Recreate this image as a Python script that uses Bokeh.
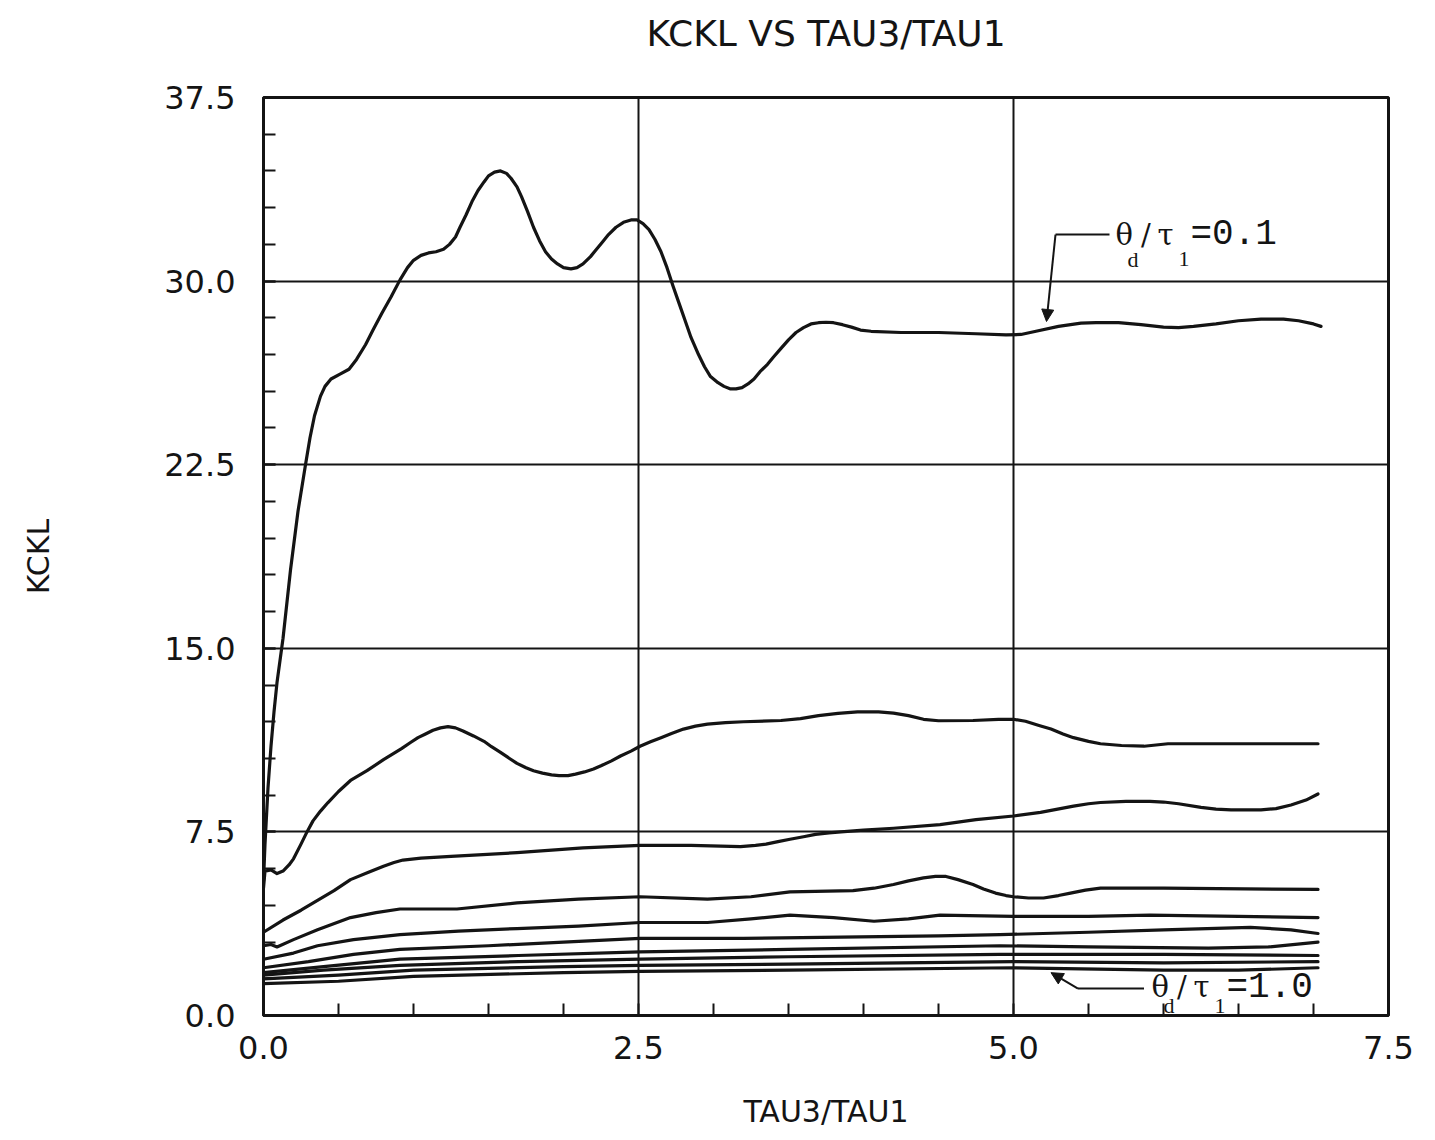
from bokeh.plotting import figure
from bokeh.models import (FixedTicker, NumeralTickFormatter, Arrow, NormalHead, ColumnDataSource,
                          LinearAxis)
from bokeh.core.properties import value
from bokeh.embed import file_html
from bokeh.resources import INLINE

# KCKL against TAU3/TAU1 for theta_d/tau_1 = 0.1 ... 1.0
x_01 = [0.0, 0.01, 0.03, 0.05, 0.07, 0.09, 0.13, 0.18, 0.23, 0.28, 0.31, 0.34, 0.38, 0.41, 0.45,
        0.51, 0.57, 0.62, 0.68, 0.73, 0.79, 0.85, 0.91, 0.96, 1.0, 1.05, 1.1, 1.15, 1.2, 1.24,
        1.28, 1.31, 1.35, 1.39, 1.43, 1.47, 1.5, 1.54, 1.58, 1.62, 1.65, 1.69, 1.72, 1.76, 1.8,
        1.84, 1.88, 1.92, 1.96, 2.0, 2.05, 2.09, 2.13, 2.18, 2.22, 2.26, 2.3, 2.35, 2.4, 2.45,
        2.49, 2.53, 2.57, 2.61, 2.65, 2.69, 2.73, 2.77, 2.81, 2.85, 2.9, 2.94, 2.98, 3.03, 3.07,
        3.11, 3.15, 3.19, 3.23, 3.27, 3.31, 3.36, 3.4, 3.45, 3.5, 3.55, 3.6, 3.65, 3.7, 3.75,
        3.8, 3.86, 3.92, 3.98, 4.05, 4.25, 4.5, 4.75, 4.95, 5.05, 5.15, 5.3, 5.45, 5.55, 5.7,
        5.85, 6.0, 6.1, 6.2, 6.35, 6.5, 6.65, 6.8, 6.9, 7.0, 7.05]
k_01 = [5.5, 7.0, 9.3, 11.0, 12.4, 13.6, 15.4, 18.2, 20.6, 22.5, 23.6, 24.5, 25.3, 25.7, 26.0,
        26.2, 26.4, 26.8, 27.4, 28.0, 28.7, 29.35, 30.05, 30.55, 30.85, 31.05, 31.15, 31.2, 31.3, 31.5,
        31.8, 32.2, 32.7, 33.25, 33.7, 34.05, 34.3, 34.45, 34.5, 34.4, 34.2, 33.85, 33.45, 32.85, 32.2,
        31.65, 31.2, 30.9, 30.7, 30.55, 30.5, 30.55, 30.7, 31.0, 31.3, 31.6, 31.9, 32.2, 32.4, 32.5,
        32.5, 32.35, 32.1, 31.7, 31.2, 30.55, 29.8, 29.1, 28.4, 27.7, 27.0, 26.5, 26.1, 25.85, 25.7,
        25.6, 25.6, 25.65, 25.8, 26.0, 26.3, 26.6, 26.9, 27.25, 27.6, 27.9, 28.1, 28.25, 28.3, 28.32,
        28.3, 28.22, 28.12, 28.0, 27.95, 27.9, 27.9, 27.85, 27.8, 27.82, 27.95, 28.15, 28.28, 28.3, 28.3,
        28.22, 28.12, 28.1, 28.15, 28.25, 28.38, 28.45, 28.45, 28.38, 28.25, 28.15]

x_02 = [0.0, 0.01, 0.05, 0.09, 0.13, 0.17, 0.2, 0.25, 0.29, 0.33, 0.38, 0.43, 0.5, 0.58, 0.69,
        0.8, 0.92, 0.98, 1.03, 1.08, 1.13, 1.18, 1.23, 1.28, 1.33, 1.4, 1.47, 1.52, 1.58, 1.64,
        1.69, 1.75, 1.8, 1.86, 1.92, 1.97, 2.03, 2.08, 2.14, 2.2, 2.25, 2.32, 2.38, 2.45, 2.51,
        2.58, 2.65, 2.72, 2.8, 2.88, 2.96, 3.08, 3.2, 3.45, 3.58, 3.7, 3.83, 3.96, 4.1, 4.2,
        4.3, 4.4, 4.5, 4.73, 4.9, 5.0, 5.08, 5.17, 5.25, 5.33, 5.4, 5.5, 5.58, 5.72, 5.87,
        5.95, 6.03, 6.5, 7.03]
k_02 = [5.2, 5.9, 5.95, 5.8, 5.9, 6.15, 6.4, 7.0, 7.5, 7.95, 8.35, 8.7, 9.15, 9.6, 10.0,
        10.45, 10.9, 11.15, 11.35, 11.5, 11.65, 11.75, 11.8, 11.75, 11.62, 11.42, 11.2, 10.98, 10.75, 10.5,
        10.3, 10.12, 10.0, 9.9, 9.83, 9.8, 9.8, 9.86, 9.95, 10.07, 10.2, 10.4, 10.6, 10.8, 11.0,
        11.18, 11.35, 11.52, 11.7, 11.82, 11.9, 11.96, 12.0, 12.05, 12.13, 12.25, 12.34, 12.4, 12.4, 12.35,
        12.25, 12.1, 12.04, 12.05, 12.1, 12.1, 12.02, 11.85, 11.7, 11.5, 11.35, 11.2, 11.1, 11.03, 11.0,
        11.05, 11.1, 11.1, 11.1]

x_03 = [0.0, 0.13, 0.25, 0.36, 0.47, 0.58, 0.7, 0.8, 0.87, 0.93, 1.05, 1.25, 1.69, 2.13, 2.51,
        2.85, 3.18, 3.28, 3.35, 3.43, 3.51, 3.6, 3.68, 3.77, 3.85, 4.0, 4.2, 4.51, 4.75, 5.0,
        5.18, 5.4, 5.5, 5.58, 5.75, 5.91, 6.0, 6.1, 6.25, 6.35, 6.45, 6.65, 6.75, 6.85, 6.95,
        7.03]
k_03 = [3.4, 3.9, 4.3, 4.7, 5.1, 5.55, 5.85, 6.1, 6.25, 6.35, 6.43, 6.5, 6.65, 6.85, 6.95,
        6.95, 6.9, 6.95, 7.0, 7.1, 7.2, 7.3, 7.4, 7.46, 7.5, 7.57, 7.65, 7.8, 8.0, 8.15,
        8.3, 8.55, 8.65, 8.7, 8.75, 8.75, 8.72, 8.65, 8.5, 8.43, 8.4, 8.4, 8.45, 8.6, 8.8,
        9.05]

x_04 = [0.0, 0.05, 0.09, 0.2, 0.36, 0.58, 0.75, 0.91, 1.29, 1.69, 2.1, 2.51, 2.96, 3.25, 3.51,
        3.93, 4.07, 4.2, 4.3, 4.4, 4.48, 4.55, 4.63, 4.73, 4.8, 4.88, 4.95, 5.0, 5.1, 5.2,
        5.3, 5.38, 5.48, 5.58, 6.0, 7.03]
k_04 = [2.85, 2.9, 2.8, 3.1, 3.5, 4.0, 4.2, 4.35, 4.35, 4.6, 4.75, 4.85, 4.75, 4.85, 5.05,
        5.1, 5.2, 5.35, 5.5, 5.62, 5.68, 5.68, 5.55, 5.35, 5.17, 5.0, 4.9, 4.85, 4.8, 4.8,
        4.9, 5.0, 5.12, 5.2, 5.2, 5.15]

x_05 = [0.0, 0.2, 0.36, 0.6, 0.91, 1.3, 1.69, 2.1, 2.51, 2.96, 3.25, 3.51, 3.8, 4.07, 4.3,
        4.51, 5.0, 5.5, 5.91, 6.5, 7.03]
k_05 = [2.3, 2.55, 2.85, 3.1, 3.3, 3.45, 3.55, 3.65, 3.8, 3.8, 3.95, 4.1, 4.0, 3.85, 3.95,
        4.1, 4.05, 4.05, 4.1, 4.05, 4.0]

x_06 = [0.0, 0.3, 0.6, 0.91, 1.5, 2.0, 2.51, 3.2, 3.85, 4.5, 4.91, 5.5, 6.0, 6.58, 6.85, 7.03]
k_06 = [1.95, 2.2, 2.5, 2.7, 2.85, 3.0, 3.15, 3.15, 3.2, 3.25, 3.3, 3.4, 3.5, 3.6, 3.5, 3.35]

x_07 = [0.0, 0.4, 0.91, 1.7, 2.51, 3.5, 4.91, 5.5, 6.3, 6.7, 7.03]
k_07 = [1.75, 2.0, 2.3, 2.45, 2.6, 2.7, 2.85, 2.8, 2.75, 2.8, 3.0]

x_08 = [0.0, 0.4, 0.91, 1.7, 2.51, 3.5, 4.91, 6.0, 7.03]
k_08 = [1.65, 1.85, 2.05, 2.2, 2.3, 2.4, 2.5, 2.5, 2.45]

x_09 = [0.0, 0.5, 1.0, 2.0, 2.51, 3.5, 5.0, 6.0, 7.03]
k_09 = [1.5, 1.65, 1.85, 2.0, 2.05, 2.1, 2.2, 2.15, 2.2]

x_10 = [0.0, 0.5, 1.0, 2.0, 2.51, 3.5, 5.0, 6.0, 6.5, 7.03]
k_10 = [1.3, 1.4, 1.6, 1.75, 1.8, 1.85, 1.95, 1.85, 1.85, 1.95]

curves = [(x_01, k_01), (x_02, k_02), (x_03, k_03), (x_04, k_04), (x_05, k_05),
          (x_06, k_06), (x_07, k_07), (x_08, k_08), (x_09, k_09), (x_10, k_10)]

x_major = [0.0, 2.5, 5.0, 7.5]
x_minor = [0.5, 1.0, 1.5, 2.0, 3.0, 3.5, 4.0, 4.5, 5.5, 6.0, 6.5, 7.0]
y_major = [0.0, 7.5, 15.0, 22.5, 30.0, 37.5]
y_minor = [i * 1.5 for i in range(26)]

INK = "#141414"
SANS = "DejaVu Sans"

p = figure(width=1435, height=1140, x_range=(0, 7.5), y_range=(0, 37.5),
           output_backend="svg", toolbar_location=None,
           min_border_left=263, min_border_right=47, min_border_top=97, min_border_bottom=125)
p.background_fill_color = "white"
p.border_fill_color = "white"
p.outline_line_color = INK
p.outline_line_width = 3

xa = p.below[0]
ya = p.left[0]

# axes
for ax in (xa, ya):
    ax.axis_line_color = INK
    ax.axis_line_width = 3
    ax.major_tick_in = 12
    ax.major_tick_out = 0
    ax.minor_tick_in = 12
    ax.minor_tick_out = 0
    ax.major_tick_line_color = INK
    ax.minor_tick_line_color = INK
    ax.major_tick_line_width = 2
    ax.minor_tick_line_width = 2
    ax.major_label_text_font = SANS
    ax.major_label_text_font_size = "32px"
    ax.major_label_text_color = INK
    ax.axis_label_text_font = SANS
    ax.axis_label_text_font_size = "30px"
    ax.axis_label_text_font_style = "normal"
    ax.axis_label_text_color = INK
    ax.formatter = NumeralTickFormatter(format="0.0")

xa.ticker = FixedTicker(ticks=x_major, minor_ticks=x_minor)
ya.ticker = FixedTicker(ticks=y_major, minor_ticks=y_minor)
xa.axis_label = "TAU3/TAU1"
ya.axis_label = "KCKL"
xa.major_label_standoff = 20
ya.major_label_standoff = 28
xa.axis_label_standoff = 32
ya.axis_label_standoff = 105

# heading: carried by a bare axis along the top edge
head = LinearAxis(ticker=FixedTicker(ticks=[]), axis_label="KCKL VS TAU3/TAU1",
                  axis_label_text_font=SANS, axis_label_text_font_size="36px",
                  axis_label_text_font_style="normal", axis_label_text_color=INK,
                  axis_label_standoff=44, axis_line_alpha=0, major_label_standoff=0,
                  major_tick_in=0, major_tick_out=0, minor_tick_in=0, minor_tick_out=0)
p.add_layout(head, "above")

# grid
p.xgrid.ticker = FixedTicker(ticks=[2.5, 5.0])
p.ygrid.ticker = FixedTicker(ticks=[7.5, 15.0, 22.5, 30.0])
for g in (p.xgrid[0], p.ygrid[0]):
    g.grid_line_color = INK
    g.grid_line_width = 2
    g.grid_line_alpha = 1.0

# curves
for xs, ks in curves:
    p.line(xs, ks, line_color=INK, line_width=3.2, line_join="round", line_cap="round")

# labels for the first and last curve: theta_d / tau_1 = ratio
def curve_label(x0, y0, ratio, sub_drop):
    main = ColumnDataSource(dict(x=[x0, x0 + 0.17, x0 + 0.28], y=[y0, y0, y0],
                                 t=["\u03b8", "/", "\u03c4"]))
    subs = ColumnDataSource(dict(x=[x0 + 0.08, x0 + 0.42], y=[y0 - sub_drop, y0 - sub_drop],
                                 t=["d", "1"]))
    p.text("x", "y", text="t", source=main, text_font=value("DejaVu Serif"),
           text_font_size="29px", text_color=INK, text_baseline="middle", text_align="left")
    p.text("x", "y", text="t", source=subs, text_font=value("Liberation Serif"),
           text_font_size="22px", text_color=INK, text_baseline="middle", text_align="left")
    p.text([x0 + 0.5], [y0], text=["=" + ratio], text_font=value("Liberation Mono"),
           text_font_size="36px", text_color=INK, text_baseline="middle", text_align="left")

curve_label(5.68, 31.9, "0.1", 1.0)
p.segment(x0=[5.28], y0=[31.9], x1=[5.64], y1=[31.9], line_color=INK, line_width=2)
p.add_layout(Arrow(x_start=5.28, y_start=31.9, x_end=5.22, y_end=28.35, line_color=INK,
                   line_width=2, end=NormalHead(size=12, fill_color=INK, line_color=INK)))

curve_label(5.92, 1.15, "1.0", 0.75)
p.segment(x0=[5.43], y0=[1.1], x1=[5.87], y1=[1.1], line_color=INK, line_width=2)
p.add_layout(Arrow(x_start=5.43, y_start=1.1, x_end=5.25, y_end=1.75, line_color=INK,
                   line_width=2, end=NormalHead(size=12, fill_color=INK, line_color=INK)))

open("out.html", "w").write(file_html(p, INLINE))
